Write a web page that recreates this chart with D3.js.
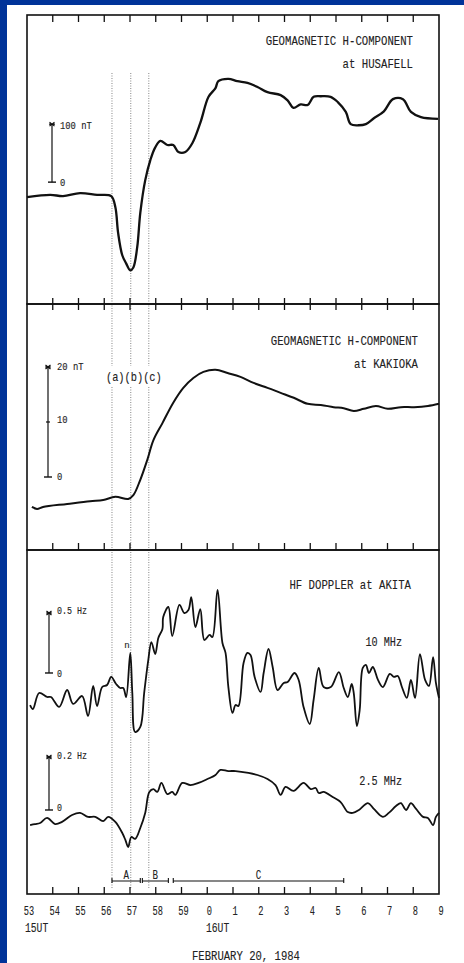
<!DOCTYPE html>
<html>
<head>
<meta charset="utf-8">
<script src="https://cdn.jsdelivr.net/npm/d3@7"></script>
<style>
body { margin: 0; background: #fff; }
text { font-family: "Liberation Mono", "DejaVu Sans Mono", monospace; fill: #222; stroke: #222; stroke-width: 0.12; }
</style>
</head>
<body>
<svg id="thesvg" width="464" height="963"></svg>
<script>
// minutes after 15:00 UT (53 = 15:53, 60 = 16:00)
var husT = [53.00, 53.90, 54.40, 55.06, 55.72, 56.27, 56.43, 56.54, 56.70, 56.85,
            57.01, 57.13, 57.28, 57.40, 57.59, 57.79, 57.98, 58.18, 58.45, 58.68,
            58.88, 59.15, 59.42, 59.73, 60.05, 60.32, 60.43, 60.82, 61.17, 61.56,
            61.95, 62.34, 62.85, 63.12, 63.35, 63.63, 63.90, 64.13, 64.41, 64.79,
            65.07, 65.38, 65.57, 65.88, 66.16, 66.47, 66.86, 67.21, 67.60, 67.91,
            68.30, 68.96];
var husV = [-26, -22, -24, -19, -22, -24, -43, -88, -126, -140,
            -152, -147, -112, -53, 3, 38, 60, 71, 64, 64,
            52, 52, 67, 102, 147, 162, 174, 178, 174, 171,
            164, 155, 150, 141, 128, 134, 133, 147, 148, 147,
            138, 121, 100, 98, 100, 110, 122, 143, 143, 121,
            112, 109];

var kakT = [53.19, 53.39, 53.62, 54.56, 55.45, 55.96, 56.43, 56.93, 57.13, 57.40,
            57.67, 57.91, 58.26, 58.68, 59.07, 59.46, 59.85, 60.32, 60.79, 61.29,
            61.80, 62.34, 62.85, 63.36, 63.90, 64.41, 64.91, 65.30, 65.69, 66.08,
            66.55, 67.01, 67.52, 68.03, 68.57, 69.00];
var kakV = [-5.45, -5.8, -5.45, -4.9, -4.4, -4.2, -3.6, -4.0, -3.3, -0.5,
            3.1, 6.7, 9.8, 13.5, 16.2, 18.0, 19.1, 19.5, 18.9, 18.2,
            17.1, 16.2, 15.3, 14.4, 13.3, 13.1, 12.7, 12.5, 12.0, 12.4,
            12.9, 12.4, 12.7, 12.7, 12.9, 13.3];

var d10T = [53.12, 53.23, 53.47, 53.78, 53.93, 54.25, 54.56, 54.79, 55.14, 55.37,
            55.57, 55.72, 55.92, 56.11, 56.27, 56.46, 56.62, 56.74, 56.85, 57.01,
            57.09, 57.20, 57.40, 57.55, 57.71, 57.83, 57.98, 58.10, 58.26, 58.29,
            58.49, 58.64, 58.92, 59.11, 59.27, 59.38, 59.54, 59.73, 59.89, 60.09,
            60.20, 60.40, 60.59, 60.71, 60.82, 60.98, 61.10, 61.21, 61.41, 61.56,
            61.68, 61.84, 62.07, 62.19, 62.38, 62.54, 62.73, 62.97, 63.12, 63.39,
            63.55, 63.74, 63.98, 64.13, 64.33, 64.52, 64.80, 65.11, 65.30, 65.46,
            65.61, 65.69, 65.81, 65.92, 66.04, 66.16, 66.28, 66.43, 66.63, 66.82,
            67.09, 67.25, 67.40, 67.56, 67.75, 67.91, 68.07, 68.26, 68.46, 68.61,
            68.77, 68.88, 69.00];
var d10V = [-0.267, -0.30, -0.167, -0.20, -0.20, -0.283, -0.142, -0.258, -0.192, -0.358,
            -0.108, -0.275, -0.117, -0.10, -0.033, -0.092, -0.125, -0.125, -0.20, 0.167,
            -0.167, -0.492, -0.45, -0.167, 0.108, 0.258, 0.158, 0.292, 0.367, 0.467,
            0.55, 0.308, 0.567, 0.50, 0.525, 0.633, 0.383, 0.533, 0.275, 0.317,
            0.30, 0.692, 0.25, 0.167, -0.117, -0.333, -0.267, -0.275, 0.083, 0.167,
            0.15, -0.033, -0.158, 0.0, 0.20, 0.05, -0.142, -0.083, -0.075, 0.0,
            -0.058, -0.283, -0.425, -0.225, 0.042, -0.117, -0.117, 0.008, -0.125, -0.20,
            -0.092, -0.167, -0.442, -0.308, 0.042, 0.067, 0.0, 0.05, -0.058, -0.117,
            -0.008, -0.033, -0.025, -0.117, -0.208, -0.058, -0.208, 0.158, -0.058, -0.108,
            0.133, -0.083, -0.208];

var d25T = [53.12, 53.31, 53.51, 53.78, 54.09, 54.36, 54.75, 55.06, 55.37, 55.65,
            55.96, 56.15, 56.43, 56.70, 56.82, 56.93, 57.05, 57.20, 57.40, 57.59,
            57.75, 57.91, 58.06, 58.22, 58.45, 58.64, 58.76, 59.03, 59.35, 59.66,
            60.01, 60.32, 60.51, 60.82, 61.10, 61.60, 61.95, 62.34, 62.65, 62.85,
            63.04, 63.35, 63.74, 64.02, 64.21, 64.33, 64.52, 64.87, 65.18, 65.46,
            65.65, 65.89, 66.24, 66.47, 66.82, 67.05, 67.33, 67.52, 67.72, 67.91,
            68.11, 68.38, 68.57, 68.77, 68.88, 69.00];
var d25V = [-0.057, -0.053, -0.049, -0.030, -0.053, -0.045, -0.019, -0.011, -0.026, -0.026,
            -0.042, -0.026, -0.045, -0.087, -0.113, -0.140, -0.102, -0.109, -0.068, -0.011,
            0.068, 0.079, 0.068, 0.102, 0.060, 0.068, 0.057, 0.102, 0.094, 0.102,
            0.117, 0.132, 0.151, 0.147, 0.147, 0.140, 0.132, 0.117, 0.094, 0.057,
            0.087, 0.072, 0.102, 0.079, 0.083, 0.064, 0.068, 0.049, 0.030, -0.008,
            -0.011, 0.0, 0.026, 0.004, -0.026, -0.011, 0.015, 0.026, 0.0, 0.026,
            0.004, -0.026, -0.030, -0.057, -0.026, -0.011];

var tickMinutes = [53, 54, 55, 56, 57, 58, 59, 60, 61, 62, 63, 64, 65, 66, 67, 68, 69];
var tickLabels = ["53", "54", "55", "56", "57", "58", "59", "0", "1", "2", "3", "4", "5", "6", "7", "8", "9"];
var markerTimes = [56.30, 57.03, 57.73];
var markerLabel = "(a)(b)(c)";
var phaseNames = ["A", "B", "C"];
var phaseStart = [56.30, 57.48, 58.68];
var phaseEnd = [57.40, 58.49, 65.30];

var svg = d3.select("#thesvg");
var ink = "#111";

var x = d3.scaleLinear().domain([53, 69]).range([27, 439]);

// panel boxes: top/bottom in pixels
var p1 = [15, 304], p2 = [304, 550], p3 = [550, 894];
var y1 = d3.scaleLinear().domain([-210, 288]).range([p1[1], p1[0]]);
var y2 = d3.scaleLinear().domain([-13.27, 31.45]).range([p2[1], p2[0]]);
var y10 = d3.scaleLinear().domain([-1.842, 1.025]).range([p3[1], p3[0]]);
var y25 = d3.scaleLinear().domain([-0.317, 0.981]).range([p3[1], p3[0]]);

function txt(px, py, s, size, cw, anchor) {
    svg.append("text")
        .attr("x", px)
        .attr("y", py)
        .attr("font-size", size)
        .attr("text-anchor", anchor || "start")
        .attr("textLength", s.length * cw)
        .attr("lengthAdjust", "spacingAndGlyphs")
        .text(s);
}

// blue border strips
svg.append("rect").attr("x", 0).attr("y", 0).attr("width", 464).attr("height", 5).attr("fill", "#003399");
svg.append("rect").attr("x", 0).attr("y", 0).attr("width", 7).attr("height", 963).attr("fill", "#003399");

// dotted marker lines, broken around the (a)(b)(c) label
for (let i = 0; i < markerTimes.length; i++) {
    var segs = [[73, 366], [387, 888]];
    for (let s = 0; s < segs.length; s++) {
        svg.append("line")
            .attr("x1", x(markerTimes[i])).attr("x2", x(markerTimes[i]))
            .attr("y1", segs[s][0]).attr("y2", segs[s][1])
            .attr("stroke", "#666")
            .attr("stroke-width", 0.8)
            .attr("stroke-dasharray", "1,1.5");
    }
}

// frames
[p1, p2, p3].forEach(function(p) {
    svg.append("rect")
        .attr("x", x(53)).attr("y", p[0])
        .attr("width", x(69) - x(53)).attr("height", p[1] - p[0])
        .attr("fill", "none")
        .attr("stroke", ink)
        .attr("stroke-width", 1.6);
});

// minute ticks on frames
var inner = tickMinutes.slice(1, tickMinutes.length - 1);
var tickRows = [[p1[0], p1[0] + 7], [p1[1] - 6, p1[1] + 6], [p2[1] - 7, p2[1]], [p3[1] - 7, p3[1]]];
tickRows.forEach(function(r) {
    svg.selectAll(null)
        .data(inner)
        .enter()
        .append("line")
        .attr("x1", d => x(d)).attr("x2", d => x(d))
        .attr("y1", r[0]).attr("y2", r[1])
        .attr("stroke", ink)
        .attr("stroke-width", 1.3);
});

// tick labels
for (let i = 0; i < tickMinutes.length; i++) {
    txt(x(tickMinutes[i]) + 2, 915, tickLabels[i], 13, 5.2, "middle");
}
txt(25, 932, "15UT", 13, 5.8);
txt(206, 932, "16UT", 13, 5.8);
txt(246, 960, "FEBRUARY 20, 1984", 12.5, 6.35, "middle");

// curves
var line = d3.line().curve(d3.curveCatmullRom.alpha(0.5));
function curve(ts, vs, ys, w) {
    var pts = ts.map((t, i) => [x(t), ys(vs[i])]);
    svg.append("path")
        .attr("d", line(pts))
        .attr("fill", "none")
        .attr("stroke", ink)
        .attr("stroke-width", w)
        .attr("stroke-linejoin", "round");
}
curve(husT, husV, y1, 2.3);
curve(kakT, kakV, y2, 2);
curve(d10T, d10V, y10, 1.8);
curve(d25T, d25V, y25, 1.8);

// scale bars
function bar(bx, ys, top, mid) {
    var yt = ys(top), yb = ys(0);
    svg.append("line").attr("x1", bx).attr("x2", bx).attr("y1", yt).attr("y2", yb)
        .attr("stroke", ink).attr("stroke-width", 1.2);
    svg.append("line").attr("x1", bx - 4).attr("x2", bx + 4).attr("y1", yb).attr("y2", yb)
        .attr("stroke", ink).attr("stroke-width", 1.4);
    svg.append("path")
        .attr("d", `M${bx - 2.5},${yt - 2}L${bx + 2.5},${yt + 2}M${bx + 2.5},${yt - 2}L${bx - 2.5},${yt + 2}M${bx - 3},${yt}L${bx + 3},${yt}`)
        .attr("stroke", ink).attr("stroke-width", 1.2);
    if (mid != null) {
        svg.append("line").attr("x1", bx - 2).attr("x2", bx + 2).attr("y1", ys(mid)).attr("y2", ys(mid))
            .attr("stroke", ink).attr("stroke-width", 1.2);
    }
}
bar(52, y1, 100, null);
txt(60, 129, "100 nT", 10.5, 5.3);
txt(60, 186, "0", 10.5, 5.3);

bar(48, y2, 20, 10);
txt(57, 370, "20 nT", 10.5, 5.3);
txt(57, 423, "10", 10.5, 5.3);
txt(57, 480, "0", 10.5, 5.3);

bar(49, y10, 0.5, null);
txt(57, 614, "0.5 Hz", 10, 5.0);
txt(57, 677, "0", 10, 5.0);

bar(49, y25, 0.2, null);
txt(57, 759, "0.2 Hz", 10, 5.0);
txt(57, 811, "0", 10, 5.0);

// titles
txt(413, 45, "GEOMAGNETIC H-COMPONENT", 13.5, 6.4, "end");
txt(413, 68, "at HUSAFELL", 13.5, 6.4, "end");
txt(418, 345, "GEOMAGNETIC H-COMPONENT", 13.5, 6.4, "end");
txt(418, 368, "at KAKIOKA", 13.5, 6.4, "end");
txt(411, 589, "HF DOPPLER at AKITA", 13.5, 6.4, "end");
txt(402, 646, "10 MHz", 13, 6.1, "end");
txt(402, 785, "2.5 MHz", 13, 6.1, "end");

// (a)(b)(c) label and small n
txt(x(markerTimes[0]) - 6, 381, markerLabel, 13, 6.2);
svg.append("text").attr("x", 127).attr("y", 648).attr("font-size", 9)
    .attr("text-anchor", "middle").attr("stroke-width", 0).text("n");

// phase brackets A B C
for (let i = 0; i < phaseNames.length; i++) {
    var xa = x(phaseStart[i]), xb = x(phaseEnd[i]), yb = 881;
    svg.append("path")
        .attr("d", `M${xa},${yb - 3}L${xa},${yb + 2}M${xa},${yb}L${xb},${yb}M${xb},${yb - 3}L${xb},${yb + 2}`)
        .attr("fill", "none")
        .attr("stroke", ink)
        .attr("stroke-width", 1.1);
    txt((xa + xb) / 2, 879, phaseNames[i], 12, 5.5, "middle");
}
</script>
</body>
</html>
